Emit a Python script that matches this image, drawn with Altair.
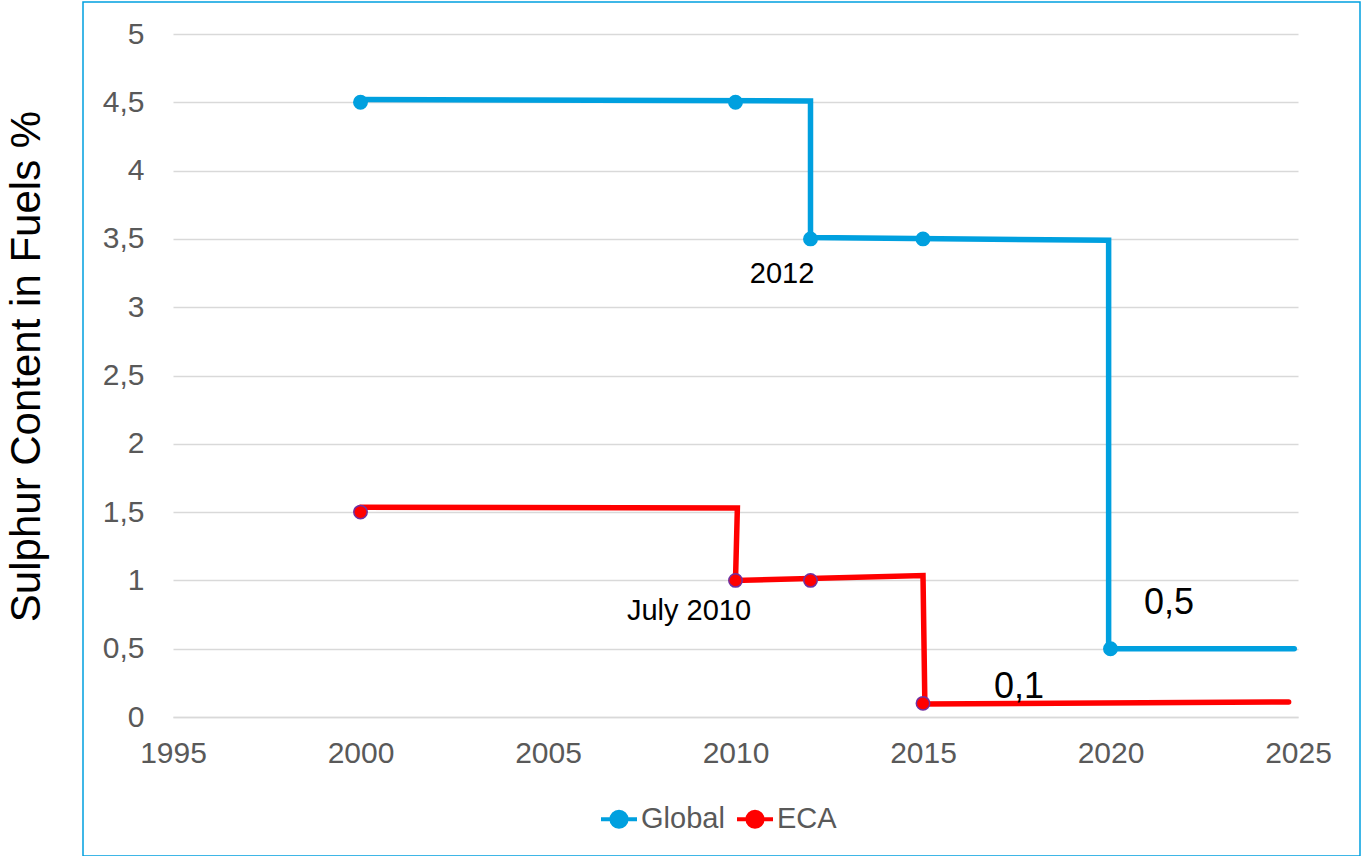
import altair as alt
import pandas as pd

BLUE = "#00A0DF"
RED = "#FF0000"
FONT = "Liberation Sans"

# Step lines (as drawn)
global_line_x = [2000, 2012, 2012, 2019.95, 2019.95, 2024.9]
global_line_y = [4.52, 4.51, 3.51, 3.49, 0.5, 0.5]
eca_line_x = [2000, 2010.05, 2010, 2015, 2015.05, 2024.75]
eca_line_y = [1.535, 1.53, 1.0, 1.035, 0.095, 0.11]

# Markers
global_pt_x = [2000, 2010, 2012, 2015, 2020]
global_pt_y = [4.5, 4.5, 3.5, 3.5, 0.5]
eca_pt_x = [2000, 2010, 2012, 2015]
eca_pt_y = [1.5, 1.0, 1.0, 0.1]

# Annotations
small_text = ["2012", "July 2010"]
small_x = [2011.24, 2008.76]
small_y = [3.24, 0.776]
big_text = ["0,5", "0,1"]
big_x = [2021.56, 2017.56]
big_y = [0.835, 0.22]

series = ["Global", "ECA"]

lines = pd.DataFrame(
    [{"series": "Global", "year": x, "value": y, "o": i} for i, (x, y) in enumerate(zip(global_line_x, global_line_y))]
    + [{"series": "ECA", "year": x, "value": y, "o": i} for i, (x, y) in enumerate(zip(eca_line_x, eca_line_y))]
)
pts = pd.DataFrame(
    [{"series": "Global", "year": x, "value": y} for x, y in zip(global_pt_x, global_pt_y)]
    + [{"series": "ECA", "year": x, "value": y} for x, y in zip(eca_pt_x, eca_pt_y)]
)
small_df = pd.DataFrame({"t": small_text, "year": small_x, "value": small_y})
big_df = pd.DataFrame({"t": big_text, "year": big_x, "value": big_y})

xscale = alt.Scale(domain=[1995, 2025], nice=False, zero=False)
yscale = alt.Scale(domain=[0, 5], nice=False)
cscale = alt.Scale(domain=series, range=[BLUE, RED])

sym = "M-1,0L1,0M0.42,0A0.42,0.42,0,1,1,-0.42,0A0.42,0.42,0,1,1,0.42,0Z"
legend = alt.Legend(
    title=None, orient="none", legendX=426, legendY=765, direction="horizontal",
    symbolType=sym, symbolSize=1296, symbolStrokeWidth=4,
    labelFont=FONT, labelFontSize=29, labelColor="#595959", labelOffset=2,
    columnPadding=4, symbolOpacity=1,
)

x_enc = alt.X("year:Q", scale=xscale, title=None,
              axis=alt.Axis(values=list(range(1995, 2026, 5)), format="d", grid=False, ticks=False,
                            domainColor="#D9D9D9", domainWidth=1.5, labelPadding=21, labelFlush=False,
                            labelFont=FONT, labelFontSize=30, labelColor="#595959"))
y_enc = alt.Y("value:Q", scale=yscale, title="Sulphur Content in Fuels %",
              axis=alt.Axis(values=[0, 0.5, 1, 1.5, 2, 2.5, 3, 3.5, 4, 4.5, 5], format="~g",
                            labelExpr="replace(datum.label, '.', ',')",
                            domain=False, ticks=False, gridColor="#D9D9D9", gridWidth=1.5,
                            labelPadding=29, labelFont=FONT, labelFontSize=30, labelColor="#595959",
                            titleFont=FONT, titleFontSize=42, titleFontWeight="normal",
                            titleColor="#000000", titlePadding=54, titleY=332))

line_layer = alt.Chart(lines).mark_line(strokeWidth=5.5, strokeCap="round", strokeJoin="miter").encode(
    x=x_enc, y=y_enc, order="o:Q",
    color=alt.Color("series:N", scale=cscale, legend=legend),
)
pt_layer = alt.Chart(pts).mark_point(filled=True, size=180, opacity=1, strokeWidth=1.5).encode(
    x="year:Q", y="value:Q",
    color=alt.Color("series:N", scale=cscale, legend=legend),
    stroke=alt.Stroke("series:N", scale=alt.Scale(domain=series, range=[BLUE, "#7030A0"]), legend=None),
)
small_layer = alt.Chart(small_df).mark_text(font=FONT, fontSize=29, color="#000000").encode(
    x="year:Q", y="value:Q", text="t:N")
big_layer = alt.Chart(big_df).mark_text(font=FONT, fontSize=36, color="#000000").encode(
    x="year:Q", y="value:Q", text="t:N")
frame = alt.Chart(pd.DataFrame({"a": [0]})).mark_rect(filled=False, stroke=BLUE, strokeWidth=1.5).encode(
    x=alt.value(-90), x2=alt.value(1187), y=alt.value(-32), y2=alt.value(822))

chart = alt.layer(frame, line_layer, pt_layer, small_layer, big_layer).resolve_scale(
    color="shared"
).properties(
    width=1125, height=683,
    padding={"left": 5, "top": 1, "right": 0, "bottom": 0},
    background="white",
).configure_view(stroke=None)

chart.save("out.html", embed_options={"renderer": "svg", "actions": False})
